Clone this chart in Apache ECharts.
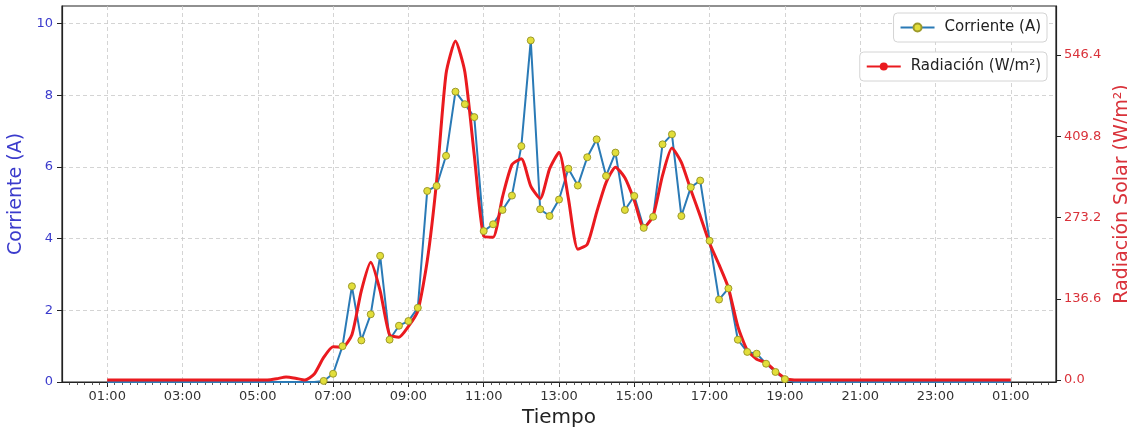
<!DOCTYPE html>
<html>
<head>
<meta charset="utf-8">
<script src="https://cdn.jsdelivr.net/npm/echarts@6/dist/echarts.min.js"></script>
<style>
  html, body { margin: 0; padding: 0; background: #fff; }
  #chart { width: 1127px; height: 430px; }
</style>
</head>
<body>
<div id="chart"></div>
<script>
// Corriente (A), cada 15 min desde 01:00 hasta 01:00 del dia siguiente
const corriente = [
  0, 0, 0, 0, 0, 0, 0, 0, 0, 0, 0, 0, 0, 0, 0, 0, 0, 0, 0, 0, 0, 0,
  0, 0.03, 0.23, 1.0, 2.67, 1.16, 1.89, 3.52, 1.18, 1.57, 1.7, 2.07,
  5.33, 5.47, 6.31, 8.1, 7.75, 7.39, 4.21, 4.4, 4.8, 5.2, 6.58, 9.53,
  4.82, 4.63, 5.09, 5.95, 5.48, 6.27, 6.77, 5.75, 6.4, 4.8, 5.19, 4.3,
  4.61, 6.63, 6.91, 4.63, 5.43, 5.62, 3.94, 2.3, 2.61, 1.18, 0.84, 0.79,
  0.51, 0.28, 0.08,
  0, 0, 0, 0, 0, 0, 0, 0, 0, 0, 0, 0, 0, 0, 0, 0, 0, 0, 0, 0, 0, 0, 0, 0
];

// Radiacion solar (W/m2), misma rejilla de tiempo
const radiacion = [
  0, 0, 0, 0, 0, 0, 0, 0, 0, 0, 0, 0, 0, 0, 0, 0, 0, 0,
  2, 5, 3, 0, 10, 38, 56, 55, 76, 150, 198, 150, 76, 72,
  90, 116, 200, 335, 515, 570, 518, 378, 242, 240,
  308, 362, 372, 326, 305, 355, 383, 305, 220, 228,
  282, 332, 358, 340, 302, 256, 276, 344, 390, 366,
  320, 276, 230, 194, 155, 90, 50, 35, 29, 15, 3,
  0, 0, 0, 0, 0, 0, 0, 0, 0, 0, 0, 0, 0, 0, 0, 0, 0, 0, 0, 0, 0, 0, 0, 0
];

// horas (01:00 = 1, 01:00 del dia siguiente = 25)
const horas = [];
for (let i = 0; i < corriente.length; i++) horas.push(1 + i * 0.25);

const xMajorTicks = [1, 3, 5, 7, 9, 11, 13, 15, 17, 19, 21, 23, 25];
const xMinorTicks = [];
for (let k = -6; k <= 126; k++) xMinorTicks.push(1 + k * 0.2);
const corrienteTicks = [0, 2, 4, 6, 8, 10];
const radiacionTicks = [0, 136.6, 273.2, 409.8, 546.4];

const FONT = 'DejaVu Sans';
const BLUE_TXT = '#3b3bcc';
const RED_TXT = '#d9323a';
const gridLine = { show: true, lineStyle: { color: '#c9c9c9', width: 0.8, type: [4, 3] } };

const chart = echarts.init(document.getElementById('chart'));

const option = {
  animation: false,
  backgroundColor: '#fff',
  textStyle: { fontFamily: FONT },
  grid: {
    left: 62, right: 71, top: 6, bottom: 48,
    containLabel: false,
    outerBoundsMode: 'none',
    show: true, borderColor: '#222', borderWidth: 1.2, backgroundColor: 'transparent'
  },
  legend: [
    {
      data: ['Corriente (A)'],
      right: 80, top: 13,
      backgroundColor: '#fff', borderColor: '#d4d4d4', borderWidth: 1, borderRadius: 4,
      padding: [7, 6, 7, 6],
      itemWidth: 34, itemHeight: 10,
      textStyle: { fontFamily: FONT, fontSize: 15, color: '#222', padding: [0, 0, 0, 5] }
    },
    {
      data: ['Radiación (W/m²)'],
      right: 80, top: 52,
      backgroundColor: '#fff', borderColor: '#d4d4d4', borderWidth: 1, borderRadius: 4,
      padding: [7, 6, 7, 6],
      itemWidth: 34, itemHeight: 10,
      textStyle: { fontFamily: FONT, fontSize: 15, color: '#222', padding: [0, 0, 0, 5] }
    }
  ],
  xAxis: [
    {
      type: 'value',
      min: -0.2, max: 26.2,
      name: 'Tiempo',
      nameLocation: 'middle',
      nameGap: 26,
      nameTextStyle: { fontFamily: FONT, fontSize: 20, color: '#222' },
      axisLine: { show: true, onZero: false, lineStyle: { color: '#222', width: 1.2 } },
      axisTick: { show: true, length: 5, customValues: xMajorTicks, lineStyle: { color: '#222' } },
      axisLabel: {
        customValues: xMajorTicks,
        margin: 8,
        fontFamily: FONT, fontSize: 13, color: '#333',
        formatter: (v) => String(Math.round(v) % 24).padStart(2, '0') + ':00'
      },
      splitLine: gridLine
    },
    {
      // ticks menores
      type: 'value',
      position: 'bottom',
      min: -0.2, max: 26.2,
      axisLine: { show: false, onZero: false },
      axisTick: { show: true, length: 3, customValues: xMinorTicks, lineStyle: { color: '#333', width: 0.8 } },
      axisLabel: { show: false },
      splitLine: { show: false }
    }
  ],
  yAxis: [
    {
      type: 'value',
      min: 0, max: 10.49,
      position: 'left',
      name: 'Corriente (A)',
      nameLocation: 'middle',
      nameRotate: 90,
      nameGap: 35,
      nameTextStyle: { fontFamily: FONT, fontSize: 19, color: BLUE_TXT },
      axisLine: { show: true, onZero: false, lineStyle: { color: '#222', width: 1.2 } },
      axisTick: { show: true, length: 5, customValues: corrienteTicks, lineStyle: { color: '#222' } },
      axisLabel: {
        customValues: corrienteTicks,
        margin: 9,
        fontFamily: FONT, fontSize: 13, color: BLUE_TXT
      },
      splitLine: gridLine
    },
    {
      type: 'value',
      min: -3.4, max: 629,
      position: 'right',
      name: 'Radiación Solar (W/m²)',
      nameLocation: 'middle',
      nameRotate: 90,
      nameGap: 52,
      nameTextStyle: { fontFamily: FONT, fontSize: 19, color: RED_TXT },
      axisLine: { show: true, onZero: false, lineStyle: { color: '#222', width: 1.2 } },
      axisTick: { show: true, length: 5, customValues: radiacionTicks, lineStyle: { color: '#222' } },
      axisLabel: {
        customValues: radiacionTicks,
        margin: 8,
        fontFamily: FONT, fontSize: 13, color: RED_TXT,
        formatter: (v) => v.toFixed(1)
      },
      splitLine: { show: false }
    }
  ],
  series: [
    {
      name: 'Corriente (A)',
      type: 'line',
      xAxisIndex: 0,
      yAxisIndex: 0,
      data: horas.map((h, i) => [h, corriente[i]]),
      symbol: 'circle',
      symbolSize: (val) => (val[1] > 0 ? 7 : 0),
      lineStyle: { color: '#2a7ab6', width: 2 },
      itemStyle: { color: '#e2de3a', borderColor: '#9d9a2a', borderWidth: 1 },
      emphasis: { disabled: true }
    },
    {
      name: 'Radiación (W/m²)',
      type: 'line',
      xAxisIndex: 0,
      yAxisIndex: 1,
      data: horas.map((h, i) => [h, radiacion[i]]),
      symbol: 'none',
      smooth: 0.2,
      lineStyle: { color: '#ea1a1f', width: 3 },
      itemStyle: { color: '#ea1a1f' },
      emphasis: { disabled: true }
    }
  ]
};

chart.setOption(option);
window.addEventListener('resize', () => chart.resize());
</script>
</body>
</html>
